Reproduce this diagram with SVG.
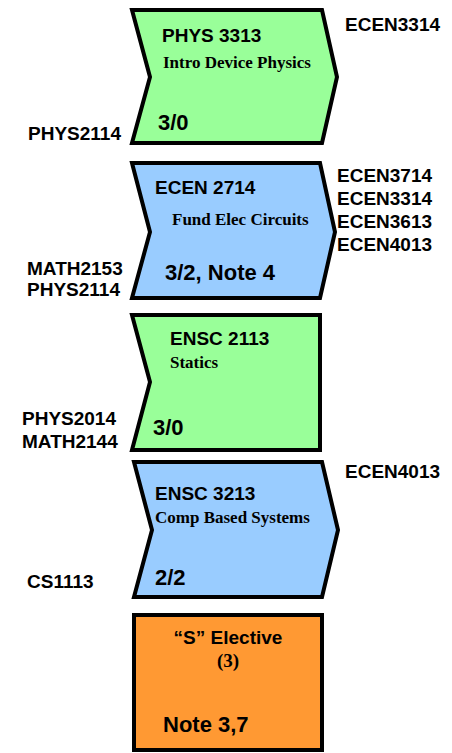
<svg xmlns="http://www.w3.org/2000/svg" width="452" height="753" viewBox="0 0 452 753">
<style>
.shape{stroke:#000;stroke-width:4;stroke-linejoin:miter}
.g{fill:#99FF99}.b{fill:#99CCFF}.o{fill:#FF9933}
.a{font-family:"Liberation Sans",Arial,sans-serif;font-weight:bold;font-size:19px;fill:#000}
.big{font-family:"Liberation Sans",Arial,sans-serif;font-weight:bold;font-size:22px;fill:#000}
.t{font-family:"Liberation Serif","Times New Roman",serif;font-weight:bold;font-size:17px;fill:#000}
</style>
<rect width="452" height="753" fill="#fff"/>
<g id="connectors"></g>
<g id="phys3313">
<polygon class="shape g" points="132,10 322,10 337,77 322,143 132,143 150,77"/>
<text class="a" x="162" y="42">PHYS 3313</text>
<text class="t" x="163" y="68">Intro Device Physics</text>
<text class="big" x="158" y="130">3/0</text>
</g>
<g id="ecen2714">
<polygon class="shape b" points="132,163 320,163 335,232 320,298 132,298 150,232"/>
<text class="a" x="155" y="194">ECEN 2714</text>
<text class="t" x="172" y="225">Fund Elec Circuits</text>
<text class="big" x="165" y="280">3/2, Note 4</text>
</g>
<g id="ensc2113">
<polygon class="shape g" points="132,315 320,315 320,450 132,450 150,382"/>
<text class="a" x="170" y="345">ENSC 2113</text>
<text class="t" x="170" y="368">Statics</text>
<text class="big" x="153" y="435">3/0</text>
</g>
<g id="ensc3213">
<polygon class="shape b" points="134,462 322,462 338,530 322,597 134,597 152,530"/>
<text class="a" x="155" y="500">ENSC 3213</text>
<text class="t" x="155" y="523">Comp Based Systems</text>
<text class="big" x="155" y="585">2/2</text>
</g>
<g id="selective">
<rect class="shape o" x="134" y="615" width="188" height="135"/>
<text class="a" x="228" y="644" text-anchor="middle">“S” Elective</text>
<text class="t" x="228" y="667" text-anchor="middle" style="font-size:19px">(3)</text>
<text class="big" x="163" y="732">Note 3,7</text>
</g>
<g id="labels">
<text class="a" x="345" y="31">ECEN3314</text>
<text class="a" x="28" y="140">PHYS2114</text>
<text class="a" x="337" y="182">ECEN3714</text>
<text class="a" x="337" y="205">ECEN3314</text>
<text class="a" x="337" y="228">ECEN3613</text>
<text class="a" x="337" y="251">ECEN4013</text>
<text class="a" x="27" y="275">MATH2153</text>
<text class="a" x="27" y="296">PHYS2114</text>
<text class="a" x="22" y="425">PHYS2014</text>
<text class="a" x="22" y="448">MATH2144</text>
<text class="a" x="345" y="478">ECEN4013</text>
<text class="a" x="27" y="588">CS1113</text>
</g>
</svg>
